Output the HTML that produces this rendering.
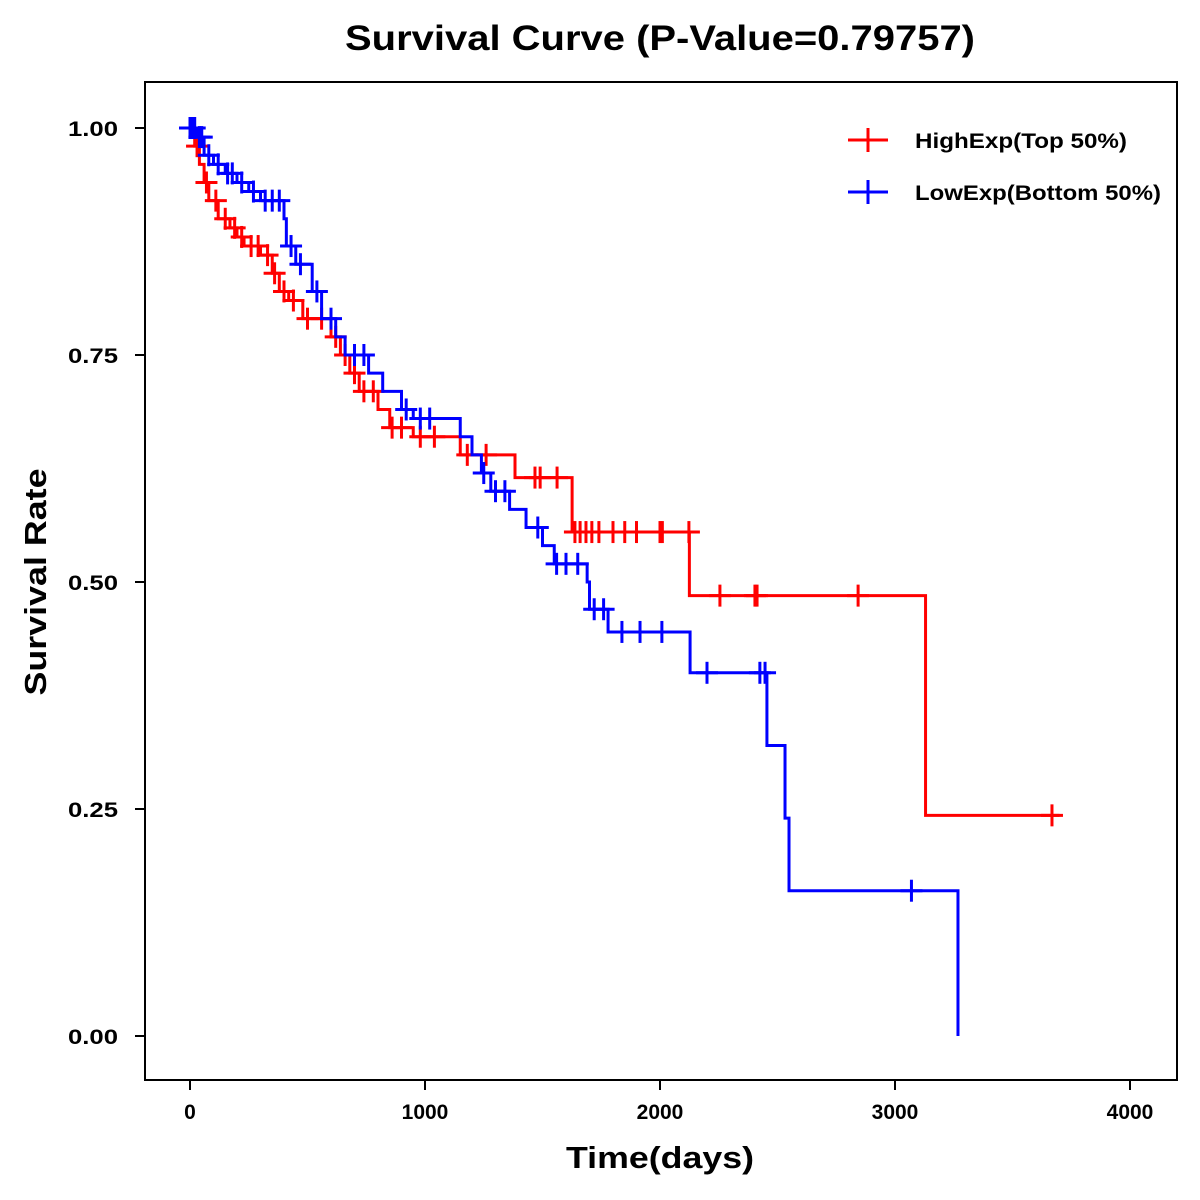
<!DOCTYPE html>
<html><head><meta charset="utf-8"><style>
body{margin:0;background:#fff;}
svg{display:block;font-family:"Liberation Sans",Arial,sans-serif;}
</style></head><body>
<svg id="chart" width="1200" height="1200" viewBox="0 0 1200 1200">
<text x="660" y="50" text-anchor="middle" font-size="35" font-weight="bold" textLength="630" lengthAdjust="spacingAndGlyphs">Survival Curve (P-Value=0.79757)</text>
<rect x="145" y="82" width="1032" height="998" fill="none" stroke="#000" stroke-width="2"/>
<text transform="translate(46,582) rotate(-90)" text-anchor="middle" font-size="31" font-weight="bold" textLength="227" lengthAdjust="spacingAndGlyphs">Survival Rate</text>
<text x="660" y="1168" text-anchor="middle" font-size="31" font-weight="bold" textLength="188" lengthAdjust="spacingAndGlyphs">Time(days)</text>
<g id="axes"></g>
<g id="series"></g>
<g>
<g>
<line x1="848" y1="140" x2="888" y2="140" stroke="#f00" stroke-width="3"/><line x1="868" y1="128" x2="868" y2="152" stroke="#f00" stroke-width="3"/>
<text x="915" y="148" font-size="21" font-weight="bold" textLength="212" lengthAdjust="spacingAndGlyphs">HighExp(Top 50%)</text></g>
<g>
<line x1="848" y1="192" x2="888" y2="192" stroke="#00f" stroke-width="3"/><line x1="868" y1="180" x2="868" y2="204" stroke="#00f" stroke-width="3"/>
<text x="915" y="200" font-size="21" font-weight="bold" textLength="246" lengthAdjust="spacingAndGlyphs">LowExp(Bottom 50%)</text></g>
</g>
</svg>
<script>
const xTicks=[0,1000,2000,3000,4000];
const yTicks=[0,0.25,0.5,0.75,1.0];
const yTickLabels=["0.00","0.25","0.50","0.75","1.00"];
const highTimes=[0,20,40,60,80,120,170,200,230,300,350,380,420,480,600,640,680,720,800,850,950,1150,1383,1626,2125,3130];
const highSurv=[1.0,0.98,0.96,0.94,0.92,0.90,0.89,0.88,0.87,0.86,0.84,0.82,0.81,0.79,0.77,0.75,0.73,0.71,0.69,0.67,0.66,0.64,0.615,0.555,0.485,0.243];
const highEnd=3700;
const highCensorT=[30,70,110,150,190,220,260,290,330,360,400,440,500,560,620,660,700,740,780,860,900,980,1040,1180,1260,1468,1490,1562,1638,1660,1685,1710,1740,1800,1850,1900,2000,2010,2123,2255,2404,2413,2843,3668];
const lowTimes=[0,30,60,100,150,200,250,300,400,410,450,520,560,620,660,760,820,900,950,1150,1200,1240,1280,1360,1430,1500,1550,1690,1700,1779,2128,2455,2532,2549,3268];
const lowSurv=[1.0,0.99,0.97,0.96,0.95,0.94,0.93,0.92,0.90,0.87,0.85,0.82,0.79,0.77,0.75,0.73,0.71,0.69,0.68,0.66,0.64,0.62,0.60,0.58,0.56,0.54,0.52,0.50,0.47,0.445,0.40,0.32,0.24,0.16,0.0];
const lowEnd=3268;
const lowCensorT=[0,10,20,40,50,80,120,160,180,220,270,320,350,380,430,470,540,600,700,740,920,980,1020,1250,1300,1340,1480,1560,1600,1650,1720,1760,1838,1915,2008,2200,2425,2447,3070];
const X=t=>190+t*0.235, Y=s=>1036-s*908;
const NS="http://www.w3.org/2000/svg";
function mk(tag,attrs,parent){const e=document.createElementNS(NS,tag);for(const k in attrs)e.setAttribute(k,attrs[k]);parent.appendChild(e);return e;}
const ax=document.getElementById('axes');
xTicks.forEach(t=>{
 const l=mk('line',{x1:X(t),x2:X(t),y1:1080,y2:1090,stroke:'#000','stroke-width':2},ax);
 
 
 const tx=mk('text',{x:X(t),y:1119,'text-anchor':'middle','font-size':21,'font-weight':'bold'},ax);tx.textContent=t;
 
 
});
yTicks.forEach((v,i)=>{
 const l=mk('line',{x1:135,x2:145,y1:Y(v),y2:Y(v),stroke:'#000','stroke-width':2},ax);
 
 
 const tx=mk('text',{x:118,y:Y(v)+8,'text-anchor':'end','font-size':21,'font-weight':'bold',textLength:50,lengthAdjust:'spacingAndGlyphs'},ax);tx.textContent=yTickLabels[i];
 
 
});
function survAt(times,surv,t){let s=surv[0];for(let i=0;i<times.length;i++){if(times[i]<=t)s=surv[i];}return s;}
const ser=document.getElementById('series');
function draw(times,surv,end,cens,color,name){
 let d=`M${X(times[0])},${Y(surv[0])}`;
 for(let i=1;i<times.length;i++){d+=` H${X(times[i])} V${Y(surv[i])}`;}
 d+=` H${X(end)}`;
 const p=mk('path',{d:d,fill:'none',stroke:color,'stroke-width':3},ser);
 
 
 cens.forEach(t=>{
  const s=survAt(times,surv,t);
  const g=mk('g',{stroke:color,'stroke-width':3},ser);
  
  
  mk('line',{x1:X(t)-11,x2:X(t)+11,y1:Y(s),y2:Y(s)},g);
  mk('line',{x1:X(t),x2:X(t),y1:Y(s)-11,y2:Y(s)+11},g);
 });
}
draw(highTimes,highSurv,highEnd,highCensorT,'#f00','high-exp');
draw(lowTimes,lowSurv,lowEnd,lowCensorT,'#00f','low-exp');
</script>
</body></html>
